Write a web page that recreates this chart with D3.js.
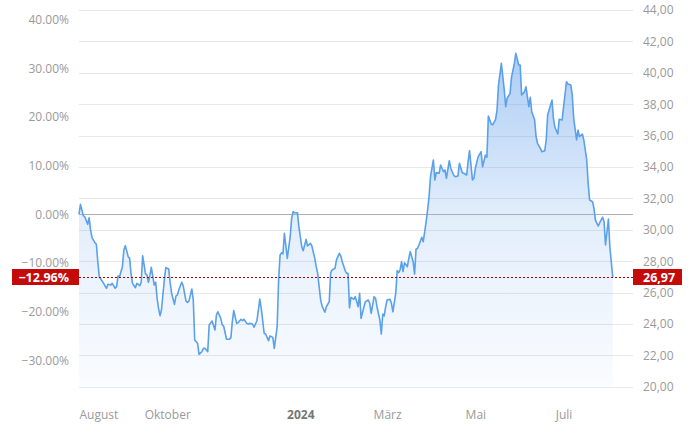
<!DOCTYPE html>
<html>
<head>
<meta charset="utf-8">
<script src="https://cdn.jsdelivr.net/npm/d3@7"></script>
<style>
  body { margin: 0; background: #fff; }
  svg { display: block; font-family: "Open Sans", sans-serif; }
</style>
</head>
<body>
<svg id="svg" width="689" height="429"></svg>
<script>
// Tage seit dem 1. August 2023 und Schlusskurse
var startDatum = new Date(2023, 7, 1);
var endDatum = new Date(2024, 7, 18);

var tage = [0,1,3,4,6,7,8,9,11,12,13,14,16,17,19,20,22,23,25,26,27,28,30,31,32,34,35,36,37,39,
  40,42,43,44,46,47,48,49,50,52,53,54,55,56,57,59,60,62,63,64,66,67,68,69,71,72,74,75,76,78,
  79,80,82,83,85,86,87,89,90,92,94,95,96,98,99,100,102,104,105,106,107,109,110,112,113,114,116,117,118,120,
  121,123,124,125,126,128,129,131,132,134,135,137,138,139,140,141,142,144,146,147,148,149,151,152,154,155,157,158,160,161,
  163,164,165,167,168,170,171,173,174,175,177,178,180,181,182,184,185,186,187,188,190,191,193,194,195,197,198,200,201,202,
  204,205,206,208,209,210,211,212,213,215,216,217,219,220,221,222,223,224,225,227,228,229,231,232,233,234,235,237,238,240,
  241,242,243,245,246,247,249,250,252,253,254,256,257,259,260,262,263,265,266,268,269,270,272,273,274,276,278,279,281,282,
  283,285,286,288,289,290,292,294,295,296,298,299,301,302,304,305,306,308,309,311,312,313,315,316,317,319,320,322,323,324,
  326,327,328,329,331,332,334,335,337,338,340,341,342,344,345,346,348,349,351,352,353,355,356,357,359,360,362,363,364,366,
  367,369];

var kurs = [30.985,31.62,30.90,30.83,30.35,30.77,29.99,29.50,29.18,29.08,27.97,27.01,26.74,26.59,26.27,26.53,26.48,26.59,26.27,26.38,27.06,27.01,27.65,28.71,28.99,28.29,28.18,27.17,26.59,26.31,
  26.59,26.44,26.66,28.35,27.18,27.12,26.66,27.08,27.61,26.48,26.66,25.64,25.00,24.53,24.89,26.80,27.59,27.50,26.66,25.96,25.25,25.78,25.85,26.17,26.66,26.44,25.46,25.38,25.46,26.23,
  25.53,22.98,22.77,22.07,22.24,22.45,22.45,22.24,23.94,24.19,23.62,24.57,24.78,24.36,23.94,23.87,23.03,23.03,23.13,24.15,24.85,24.04,24.08,24.30,24.21,24.30,24.04,24.00,24.04,24.00,
  23.79,24.21,24.89,25.59,25.00,23.41,23.36,22.94,23.24,23.15,22.45,23.83,26.80,28.39,28.54,28.46,29.78,28.18,29.56,30.73,31.15,31.09,31.09,30.20,28.92,28.67,29.39,28.97,29.14,28.97,
  28.18,27.65,27.23,25.57,25.15,24.75,25.10,25.42,27.27,27.44,27.55,28.08,28.50,28.33,27.97,27.40,27.23,27.23,25.03,25.70,25.57,25.74,25.10,25.96,24.36,25.10,25.42,25.53,25.32,24.68,
  25.74,25.64,25.10,24.25,23.36,24.64,24.51,25.10,25.53,25.57,25.32,24.78,25.96,27.40,27.27,27.44,27.97,27.33,27.90,27.65,28.18,28.61,27.97,27.18,28.76,28.82,29.03,29.52,29.24,30.52,
  31.26,32.11,33.38,34.45,33.17,33.64,33.60,34.13,33.70,33.81,33.28,34.40,33.92,33.49,33.38,33.43,34.24,33.64,33.60,33.49,34.34,35.04,33.17,33.28,33.92,34.66,34.97,34.02,34.76,34.62,
  37.25,36.74,36.68,37.04,37.63,39.22,40.61,38.90,37.84,38.38,38.69,39.71,40.61,41.24,40.50,40.50,38.59,38.80,39.11,37.84,38.44,37.52,36.99,35.93,35.51,35.19,34.97,35.04,35.72,37.31,
  37.95,38.27,37.10,36.53,36.10,37.04,36.99,37.84,39.43,39.29,39.22,38.59,37.10,35.72,36.36,35.93,36.10,35.72,34.45,32.96,31.90,31.79,31.37,30.62,30.24,30.45,30.80,30.52,29.03,30.69,
  28.92,26.97];

var kursTicks = [20,22,24,26,28,30,32,34,36,38,40,42,44];
var prozentTicks = [-0.3,-0.2,-0.1,0,0.1,0.2,0.3,0.4];
var monatsTicks = [new Date(2023,7,1), new Date(2023,9,1), new Date(2024,0,1), new Date(2024,2,1), new Date(2024,4,1), new Date(2024,6,1)];
var monatsNamen = ['August','Oktober','2024','März','Mai','Juli'];

var basisKurs = kurs[0];
var letzterKurs = kurs[kurs.length - 1];

var daten = tage.map(function(t, i) {
    return {datum: d3.timeDay.offset(startDatum, t), kurs: kurs[i]};
});

var links = 79, rechts = 633, oben = 10, unten = 386.8;

var svg = d3.select('svg');

var x = d3.scaleTime()
    .domain([startDatum, endDatum])
    .range([links, rechts]);

var y = d3.scaleLinear()
    .domain([20, 44])
    .range([unten, oben]);

var yProzent = d3.scaleLinear()
    .domain([20 / basisKurs - 1, 44 / basisKurs - 1])
    .range([unten, oben]);

var deFormat = d3.formatLocale({decimal: ',', thousands: '.', grouping: [3], currency: ['', ' €'], minus: '\u2212'}).format(',.2f');

// Farbverlauf unter der Linie
var defs = svg.append('defs');
var grad = defs.append('linearGradient')
    .attr('id', 'flaeche')
    .attr('gradientUnits', 'userSpaceOnUse')
    .attr('x1', 0).attr('x2', 0)
    .attr('y1', y(d3.max(kurs))).attr('y2', unten);
grad.append('stop').attr('offset', 0).attr('stop-color', '#5b9cea').attr('stop-opacity', 0.5);
grad.append('stop').attr('offset', 0.5).attr('stop-color', '#5b9cea').attr('stop-opacity', 0.17);
grad.append('stop').attr('offset', 1).attr('stop-color', '#5b9cea').attr('stop-opacity', 0.03);

// Gitterlinien
svg.append('g')
    .selectAll('line')
    .data(kursTicks)
    .enter()
    .append('line')
    .attr('x1', links)
    .attr('x2', rechts)
    .attr('y1', function(d){ return Math.round(y(d)) + 0.5; })
    .attr('y2', function(d){ return Math.round(y(d)) + 0.5; })
    .attr('stroke', '#e8e8e8')
    .attr('stroke-width', 1);

var flaeche = d3.area()
    .x(function(d){ return x(d.datum); })
    .y0(unten)
    .y1(function(d){ return y(d.kurs); });

var linie = d3.line()
    .x(function(d){ return x(d.datum); })
    .y(function(d){ return y(d.kurs); });

svg.append('path')
    .datum(daten)
    .attr('d', flaeche)
    .attr('fill', 'url(#flaeche)');

// Nulllinie
svg.append('line')
    .attr('x1', links)
    .attr('x2', rechts)
    .attr('y1', Math.round(yProzent(0)) + 0.5)
    .attr('y2', Math.round(yProzent(0)) + 0.5)
    .attr('stroke', '#aeaeb8')
    .attr('stroke-width', 1);

svg.append('path')
    .datum(daten)
    .attr('d', linie)
    .attr('fill', 'none')
    .attr('stroke', '#5aa0ea')
    .attr('stroke-width', 1.6)
    .attr('stroke-linejoin', 'round');

// Achsen
var achseLinks = svg.append('g')
    .attr('transform', 'translate(' + links + ',0)')
    .call(d3.axisLeft(yProzent).tickValues(prozentTicks).tickFormat(d3.format('.2%')).tickSize(0).tickPadding(10));

var achseRechts = svg.append('g')
    .attr('transform', 'translate(' + rechts + ',0)')
    .call(d3.axisRight(y).tickValues(kursTicks).tickFormat(deFormat).tickSize(0).tickPadding(10));

var achseUnten = svg.append('g')
    .attr('transform', 'translate(0,' + 406 + ')')
    .call(d3.axisBottom(x).tickValues(monatsTicks).tickFormat(function(d, i){ return monatsNamen[i]; }).tickSize(0).tickPadding(4));

[achseLinks, achseRechts, achseUnten].forEach(function(a) {
    a.select('.domain').remove();
    a.selectAll('text')
        .attr('fill', '#9a9a9a')
        .style('font-size', '12px')
        .style('font-family', '"Open Sans", sans-serif');
});

achseUnten.selectAll('text')
    .filter(function(d, i){ return i === 0; })
    .attr('text-anchor', 'start');
achseUnten.selectAll('text')
    .filter(function(d, i){ return monatsNamen[i] === '2024'; })
    .attr('fill', '#777')
    .style('font-weight', 'bold');

// aktueller Kurs
var yAktuell = Math.round(y(letzterKurs)) + 0.5;

svg.append('line')
    .attr('x1', links)
    .attr('x2', rechts)
    .attr('y1', yAktuell)
    .attr('y2', yAktuell)
    .attr('stroke', '#a30000')
    .attr('stroke-width', 1)
    .attr('stroke-dasharray', '2,2');

svg.append('rect')
    .attr('x', 12).attr('y', yAktuell - 8.5)
    .attr('width', links - 12).attr('height', 16)
    .attr('fill', '#c50a0a');

svg.append('text')
    .attr('x', 69).attr('y', yAktuell)
    .attr('dy', '0.35em')
    .attr('text-anchor', 'end')
    .attr('fill', '#fff')
    .style('font-size', '12.5px')
    .style('font-weight', 'bold')
    .text(d3.format('.2%')(letzterKurs / basisKurs - 1));

svg.append('rect')
    .attr('x', rechts).attr('y', yAktuell - 8.5)
    .attr('width', 49).attr('height', 16)
    .attr('fill', '#c50a0a');

svg.append('text')
    .attr('x', 643).attr('y', yAktuell)
    .attr('dy', '0.35em')
    .attr('fill', '#fff')
    .style('font-size', '12.5px')
    .style('font-weight', 'bold')
    .text(deFormat(letzterKurs));
</script>
</body>
</html>
